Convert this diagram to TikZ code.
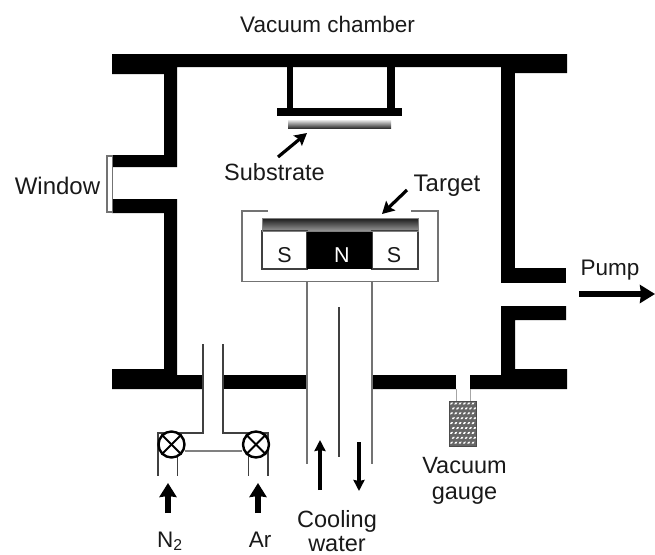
\documentclass[tikz,border=0pt]{standalone}
\usepackage{fontspec}
\setmainfont{Liberation Sans}
\usetikzlibrary{arrows.meta}
\tikzset{
  wall/.style={fill=black,draw=none},
  thin line/.style={draw=black!55,line width=1.4pt},
  dark line/.style={draw=black!75,line width=1.3pt},
  lbl/.style={inner sep=0pt,text=black!90,font=\fontsize{22.5}{24}\selectfont},
  lblb/.style={lbl,font=\fontsize{23.5}{24}\selectfont},
  magnet/.style={lbl,font=\fontsize{21.5}{22}\selectfont},
  pointer/.style={draw=black,line width=3.2pt,-{Stealth[length=12pt,width=13pt,inset=2pt]}},
  gasarrow/.style={draw=black,line width=5.5pt,-{Stealth[length=14pt,width=17pt,inset=1pt]}},
  waterarrow/.style={draw=black,line width=3.4pt,-{Stealth[length=11pt,width=11pt,inset=1pt]}},
  pumparrow/.style={draw=black,line width=6pt,-{Stealth[length=15pt,width=18pt,inset=1pt]}},
  valve/.style={circle,draw=black,line width=2.4pt,minimum size=26pt,inner sep=0pt,fill=white},
}
\begin{document}
\begin{tikzpicture}[x=1pt,y=-1pt]
\useasboundingbox (0,0) rectangle (655,554);
% chamber walls
\fill[wall] (112,54) -- (567,54) -- (567,73) -- (515,73) -- (515,67) -- (177,67) -- (177,167)
  -- (112,167) -- (112,155) -- (164,155) -- (164,74) -- (112,74) -- cycle;
\fill[wall] (501,67) rectangle (515,283);
\fill[wall] (501,268) rectangle (566,283);
\fill[wall] (112,199) -- (177,199) -- (177,375) -- (203,375) -- (203,389) -- (112,389)
  -- (112,369) -- (164,369) -- (164,213) -- (112,213) -- cycle;
\fill[wall] (223,375) rectangle (307,389);
\fill[wall] (372,375) -- (501,375) -- (501,306) -- (566,306) -- (566,320) -- (515,320)
  -- (515,369) -- (567,369) -- (567,389) -- (372,389) -- cycle;
% window
\draw[draw=black!55,line width=1.2pt,fill=white] (107,156) rectangle (112.5,212);
% substrate holder
\fill[wall] (287,67) rectangle (293,108);
\fill[wall] (387,67) rectangle (395,108);
\fill[wall] (277,108) rectangle (402,116);
\shade[top color=white,bottom color=black!80] (288,119) rectangle (391,128);
\coordinate (subtip) at (307,133);
\node[lblb] (substrate) at (274.5,172) {Substrate};
\coordinate (subtail) at (278,157);
\draw[pointer] (subtail) -- (subtip);
% magnetron
\draw[thin line] (268,211) -- (242,211) -- (242,281.5) -- (438,281.5) -- (438,211) -- (411,211);
\shade[top color=black!90,bottom color=black!40] (262,218) rectangle (418,231);
\draw[dark line,fill=white] (262,231) rectangle (307,269);
\draw[dark line,fill=white] (372,231) rectangle (418,269);
\fill[black] (307,231) rectangle (372,269);
\draw[draw=black!50,line width=.8pt] (262,218) rectangle (418,231);
\node[magnet] (s1) at (284.5,255) {S};
\node[magnet,text=white] (n) at (342,255) {N};
\node[magnet] (s2) at (394,255) {S};
\node[lbl,font=\fontsize{24}{24}\selectfont] (target) at (447,186) {Target};
\coordinate (tartail) at (407,190);
\coordinate (tartip) at (382,214);
\draw[pointer] (tartail) -- (tartip);
% cooling pipes
\draw[thin line] (307,281.5) -- (307,464);
\draw[thin line] (372,281.5) -- (372,464);
\draw[dark line] (339,307) -- (339,457);
\coordinate (up1) at (320,490); \coordinate (up2) at (320,440);
\coordinate (dn1) at (359,442); \coordinate (dn2) at (359,491);
\draw[waterarrow] (up1) -- (up2);
\draw[waterarrow] (dn1) -- (dn2);
% gas inlet
\draw[dark line] (203,344) -- (203,433) -- (158,433) -- (158,476);
\draw[dark line] (223,344) -- (223,433) -- (268,433) -- (268,476);
\draw[draw=black!50,line width=1.4pt] (185,451) -- (242,451);
\draw[dark line] (177.5,456) -- (177.5,476);
\draw[dark line] (248.5,456) -- (248.5,476);
\node[valve] (v1) at (171.5,444.5) {};
\node[valve] (v2) at (256,444.5) {};
\foreach \v in {v1,v2}{
  \draw[black,line width=2pt] (\v.north west) -- (\v.south east);
  \draw[black,line width=2pt] (\v.north east) -- (\v.south west);
}
\coordinate (n1) at (168,513); \coordinate (n2) at (168,483);
\coordinate (a1) at (258,513); \coordinate (a2) at (258,483);
\draw[gasarrow] (n1) -- (n2);
\draw[gasarrow] (a1) -- (a2);
% gauge
\draw[draw=black!35,line width=1pt,fill=white] (456,389) -- (456,401) -- (470,401) -- (470,389);
\fill[white] (456,375) rectangle (470,389);
\fill[black!60] (449,401) rectangle (476,446);
\foreach \r in {0,...,8}{
  \foreach \c in {0,...,5}{
    \pgfmathsetmacro{\xx}{451.5+4.3*\c+mod(\r,2)*1.8}
    \pgfmathsetmacro{\yy}{403.5+4.9*\r}
    \fill[white,rotate around={35:(\xx,\yy)}] (\xx,\yy) ellipse (1.8pt and 1pt);
  }
}
\draw[draw=black!70,line width=.8pt] (449,401) rectangle (476,446);
% pump arrow
\coordinate (p1) at (579,294); \coordinate (p2) at (655,294);
\draw[pumparrow] (p1) -- (p2);
% labels
\node[lbl] (chamber) at (327.5,24) {Vacuum chamber};
\node[lbl,font=\fontsize{24}{24}\selectfont] (window) at (57.5,186) {Window};
\node[lbl] (pump) at (610,270.5) {Pump};
\node[lblb] (vac) at (464.5,465.5) {Vacuum};
\node[lblb] (gauge) at (464.5,496) {gauge};
\node[lblb] (cool) at (337,521) {Cooling};
\node[lblb] (water) at (337,544.5) {water};
\node[lbl,anchor=base] (nn) at (170,547) {N\textsubscript{2}};
\node[lbl,anchor=base] (ar) at (260,547) {Ar};
\end{tikzpicture}
\end{document}
